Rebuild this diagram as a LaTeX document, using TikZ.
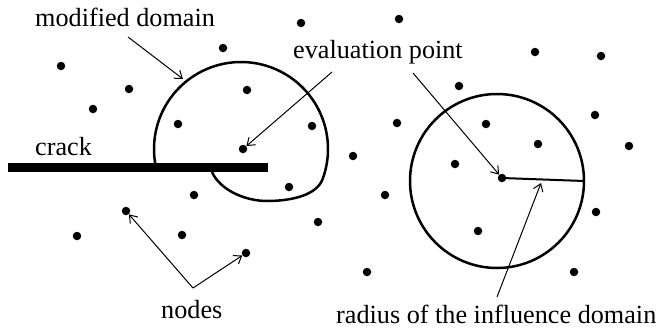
\documentclass[tikz,border=0pt]{standalone}
\usepackage{fontspec}
\setmainfont{Liberation Serif}
\usetikzlibrary{arrows.meta}
\begin{document}
\begin{tikzpicture}[x=1pt,y=-1pt,
  dot/.style={circle,fill=black,inner sep=0pt,minimum size=8.5pt},
  lbl/.style={font=\fontsize{26.2}{30}\selectfont,inner sep=0pt,anchor=base west},
  pointer/.style={-{Straight Barb[length=7pt,width=10pt]},line width=1pt},
  domainline/.style={line width=2.5pt},
  crackbar/.style={fill=black,draw=none}]
\useasboundingbox (0,0) rectangle (659,335);
% modified domain outline: circle about the evaluation point, cut behind the crack
\draw[domainline,line join=round] plot[domain=170.7:380,samples=80,variable=\t] ({241+87*cos(\t)},{149+87*sin(\t)})
  .. controls (316,197.6) and (285,201) .. (267,201)
  .. controls (245,201) and (220,190) .. (212,172);
% crack
\fill[crackbar] (8,163) rectangle (268,172);
% influence domain
\node[draw,circle,line width=2.5pt,minimum size=174pt,inner sep=0pt] (inf) at (497,181) {};
% dots
\foreach \i/\p in {a1/{(61,66)},a2/{(129,89)},a3/{(93,109)},a4/{(178,124)},a5/{(223,48)},a6/{(301,23)},a7/{(247,90)},a8/{(312,126)},
  b1/{(399,19)},b2/{(535,52)},b3/{(601,56)},b4/{(459,86)},b5/{(397,123)},b6/{(486,124)},b7/{(595,115)},b8/{(538,144)},b9/{(629,146)},b10/{(353,156)},b11/{(455,164)},
  c1/{(289,187)},c2/{(194,195)},c4/{(318,222)},c5/{(77,236)},c6/{(182,235)},
  d1/{(385,195)},d2/{(596,212)},d3/{(478,231)},d4/{(367,272)},d5/{(574,272)}}
  \node[dot] (\i) at \p {};
\node[dot] (evL) at (243,149) {};
\node[dot] (evR) at (502,178) {};
\node[dot] (nA) at (126,211) {};
\node[dot] (nB) at (246,253) {};
% radius
\coordinate (radEnd) at (584,181);
\draw[line width=2pt] (evR.center) -- (radEnd);
% labels
\node[lbl] (lmod) at (35,26) {modified domain};
\node[lbl] (leval) at (293,58) {evaluation point};
\node[lbl] (lcrack) at (35,155) {crack};
\node[lbl] (lnodes) at (161,318) {nodes};
\node[lbl] (lrad) at (336,323) {radius of the influence domain};
% pointer arrows
\coordinate (modS) at (128,37);
\coordinate (modE) at (183,79);
\draw[pointer] (modS) -- (modE);
\coordinate (evS1) at (332,72);
\draw[pointer] (evS1) -- (evL);
\coordinate (evS2) at (413,73);
\draw[pointer] (evS2) -- (evR);
\coordinate (ndS) at (193,288);
\draw[pointer] (ndS) -- (nA);
\draw[pointer] (ndS) -- (nB);
\coordinate (rdS) at (497,297);
\coordinate (rdE) at (541,183);
\draw[pointer] (rdS) -- (rdE);
\end{tikzpicture}
\end{document}
